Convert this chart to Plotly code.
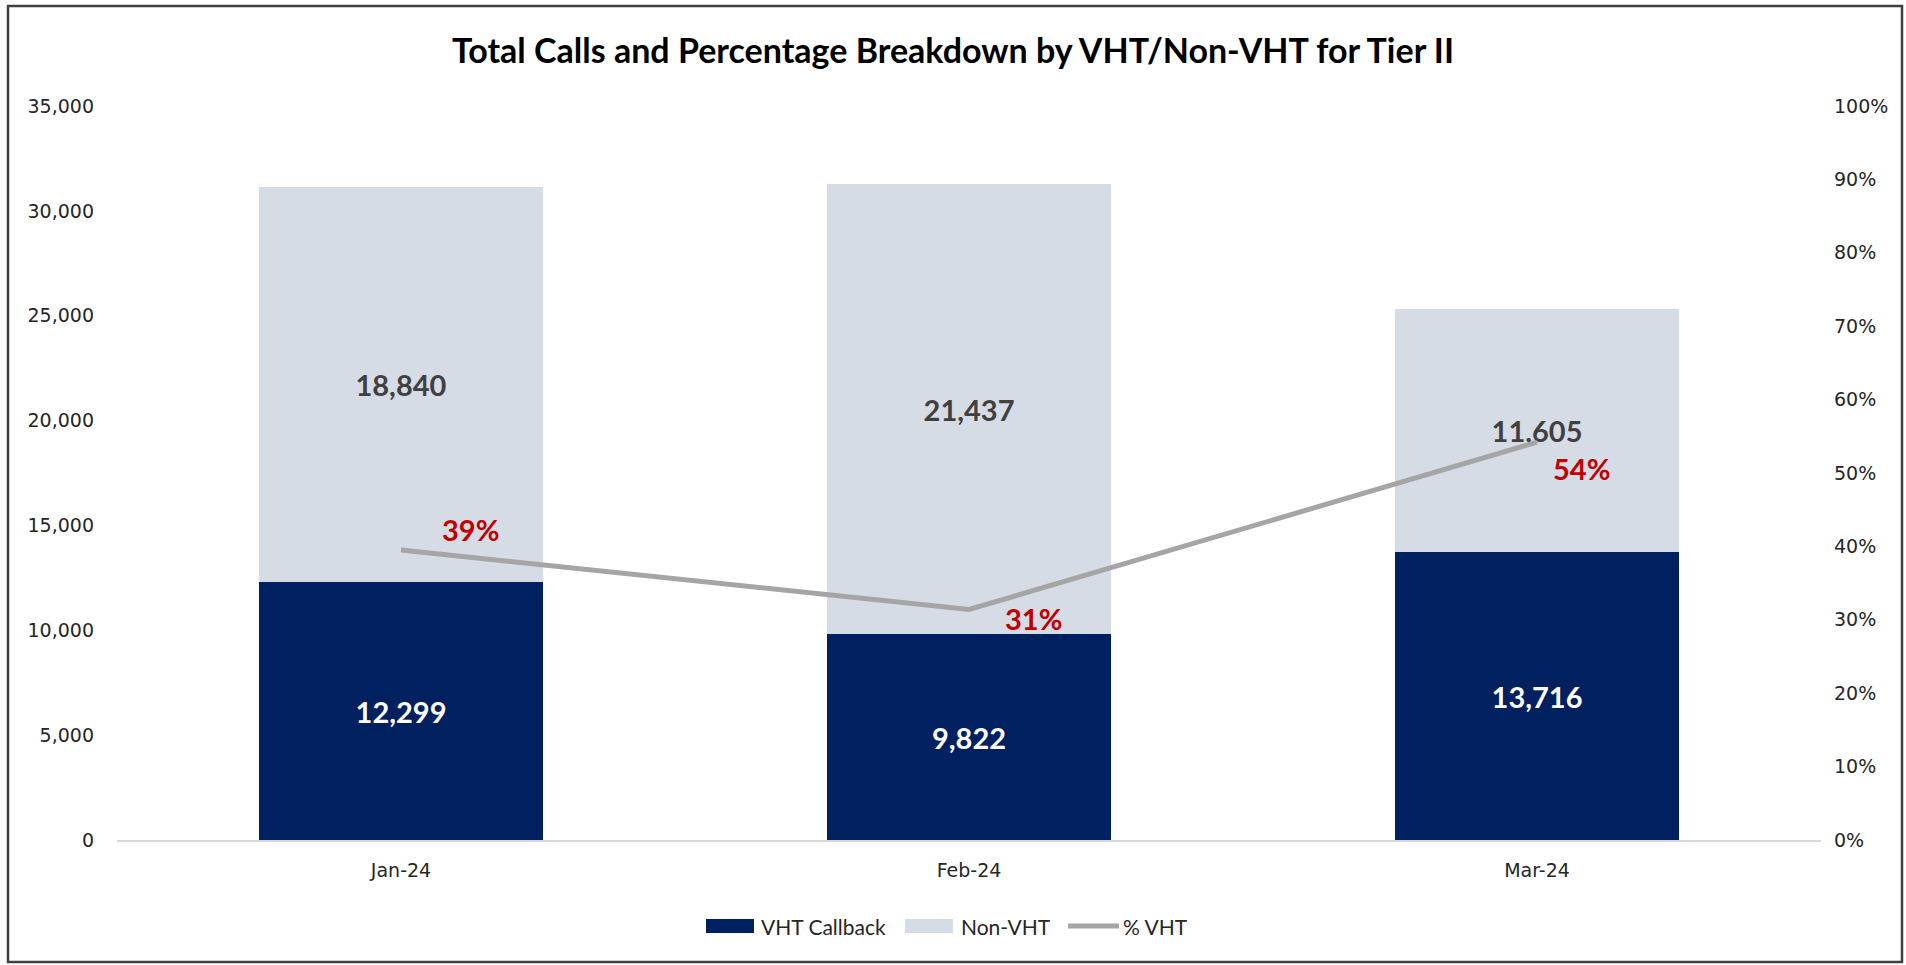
import plotly.graph_objects as go

months = ["Jan-24", "Feb-24", "Mar-24"]
vht_callback = [12299, 9822, 13716]
non_vht = [18840, 21437, 11605]
pct_vht = [0.395, 0.314, 0.542]
pct_labels = ["39%", "31%", "54%"]

NAVY = "#002060"
LIGHT = "#D6DCE5"
GRAY = "#A5A5A5"
RED = "#C00000"
DARK = "#404040"
LABEL_FONT = "Lato"
TICK_FONT = "DejaVu Sans"

# plot area geometry (pixels) used for layout-only elements (frame, legend)
L, R, T, B = 117, 85, 106, 125
W, H = 1906, 965
PW, PH = W - L - R, H - T - B


def px(x):
    return (x - L) / PW


def py(y):
    return (H - B - y) / PH


fig = go.Figure()
fig.add_trace(go.Bar(
    x=months, y=vht_callback, name="VHT Callback",
    marker=dict(color=NAVY, line=dict(width=0)),
    text=[f"{v:,}" for v in vht_callback], textposition="inside",
    insidetextanchor="middle", textangle=0, constraintext="none",
    textfont=dict(family=LABEL_FONT, size=29, color="white", weight="bold"),
    yaxis="y", showlegend=False,
))
fig.add_trace(go.Bar(
    x=months, y=non_vht, name="Non-VHT",
    marker=dict(color=LIGHT, line=dict(width=0)),
    text=[f"{v:,}" for v in non_vht], textposition="inside",
    insidetextanchor="middle", textangle=0, constraintext="none",
    textfont=dict(family=LABEL_FONT, size=29, color=DARK, weight="bold"),
    yaxis="y", showlegend=False,
))
fig.add_trace(go.Scatter(
    x=months, y=pct_vht, name="% VHT", mode="lines",
    line=dict(color=GRAY, width=5), yaxis="y2", showlegend=False,
))

# percentage labels
shifts = [(69, 21), (64, -9), (44, -26)]
for m, p, lab, (dx, dy) in zip(months, pct_vht, pct_labels, shifts):
    fig.add_annotation(x=m, y=p, xref="x", yref="y2", text=lab, showarrow=False,
                       xshift=dx, yshift=dy,
                       font=dict(family=LABEL_FONT, size=29, color=RED, weight="bold"))

# outer frame
fig.add_shape(type="rect", xref="paper", yref="paper",
              x0=px(8), x1=px(1902), y0=py(962), y1=py(6),
              line=dict(color="#404040", width=2.5), fillcolor="rgba(0,0,0,0)", layer="below")

# legend (drawn manually to match Excel-style wide swatches)
leg_y = 926
legend_items = [
    ("rect", NAVY, 706, 754, 759, "VHT Callback"),
    ("rect", LIGHT, 905, 953, 959, "Non-VHT"),
    ("line", GRAY, 1068, 1119, 1121, "% VHT"),
]
for kind, color, x0, x1, tx, label in legend_items:
    if kind == "rect":
        fig.add_shape(type="rect", xref="paper", yref="paper",
                      x0=px(x0), x1=px(x1), y0=py(leg_y + 7), y1=py(leg_y - 7),
                      line=dict(width=0), fillcolor=color)
    else:
        fig.add_shape(type="line", xref="paper", yref="paper",
                      x0=px(x0), x1=px(x1), y0=py(leg_y), y1=py(leg_y),
                      line=dict(width=5, color=color))
    fig.add_annotation(xref="paper", yref="paper", x=px(tx), y=py(leg_y),
                       xanchor="left", yanchor="middle", text=label, showarrow=False,
                       font=dict(family=LABEL_FONT, size=21, color="#262626"))

fig.update_layout(
    width=W, height=H,
    margin=dict(l=L, r=R, t=T, b=B),
    paper_bgcolor="white", plot_bgcolor="white",
    barmode="stack", bargap=0.5,
    title=dict(text="<b>Total Calls and Percentage Breakdown by VHT/Non-VHT for Tier II</b>",
               x=0.5, xanchor="center", y=1 - 51 / H, yanchor="middle",
               font=dict(family=LABEL_FONT, size=34, color="black")),
    xaxis=dict(showgrid=False, showline=True, linecolor="#D9D9D9", linewidth=1.5,
               ticks="", tickfont=dict(family=TICK_FONT, size=19, color="#262626"),
               ticklabelstandoff=12),
    yaxis=dict(range=[0, 35000], dtick=5000, tickformat=",", showgrid=False,
               zeroline=False, showline=False, ticks="",
               tickfont=dict(family=TICK_FONT, size=19, color="#262626"),
               ticklabelstandoff=22),
    yaxis2=dict(range=[0, 1], dtick=0.1, tickformat=".0%", overlaying="y", side="right",
                showgrid=False, zeroline=False, showline=False, ticks="",
                tickfont=dict(family=TICK_FONT, size=19, color="#262626"),
                ticklabelstandoff=12),
    showlegend=False,
)

fig.write_html("out.html", config={"displayModeBar": False},
               post_script="document.body.style.margin='0';document.body.style.overflow='hidden';")
